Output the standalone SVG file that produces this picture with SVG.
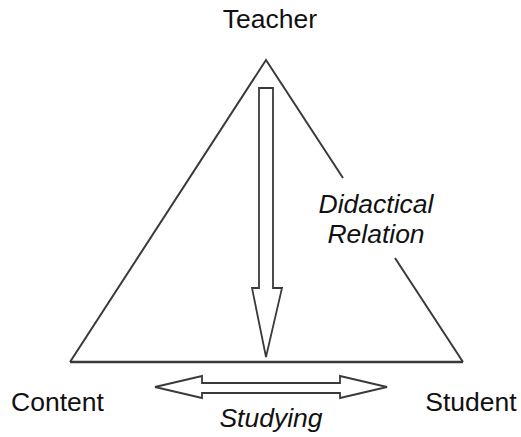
<svg xmlns="http://www.w3.org/2000/svg" width="521" height="437" viewBox="0 0 521 437">
<style>
.l{fill:none;stroke:#3a3a3a;stroke-width:2;stroke-linejoin:miter}
.b{fill:none;stroke:#3a3a3a;stroke-width:2.6}
.a{fill:#fff;stroke:#3a3a3a;stroke-width:1.8}
text{font-family:"Liberation Sans",Arial,sans-serif;font-size:26.5px;fill:#111}
.i{font-style:italic}
</style>
<rect width="521" height="437" fill="#fff"/>
<g id="connectors">
<path class="l" d="M343,178 L266,60 L70,362 M463,362 L395,258"/>
<path class="b" d="M70,362 H463"/>
<path class="a" d="M259,88 H273 V288 H282 L266,357 L252,288 H259 Z"/>
<path class="a" d="M155,387 L202,376 V383 H340 V376 L387,387 L340,398 V393 H202 V398 Z"/>
</g>
<g id="teacher"><text x="270" y="28" text-anchor="middle">Teacher</text></g>
<g id="content"><text x="57.5" y="411" text-anchor="middle">Content</text></g>
<g id="student"><text x="471" y="411" text-anchor="middle">Student</text></g>
<g id="studying"><text class="i" x="271" y="427" text-anchor="middle">Studying</text></g>
<g id="didactical"><text class="i" x="376" y="213" text-anchor="middle">Didactical</text><text class="i" x="376" y="243" text-anchor="middle">Relation</text></g>
</svg>
